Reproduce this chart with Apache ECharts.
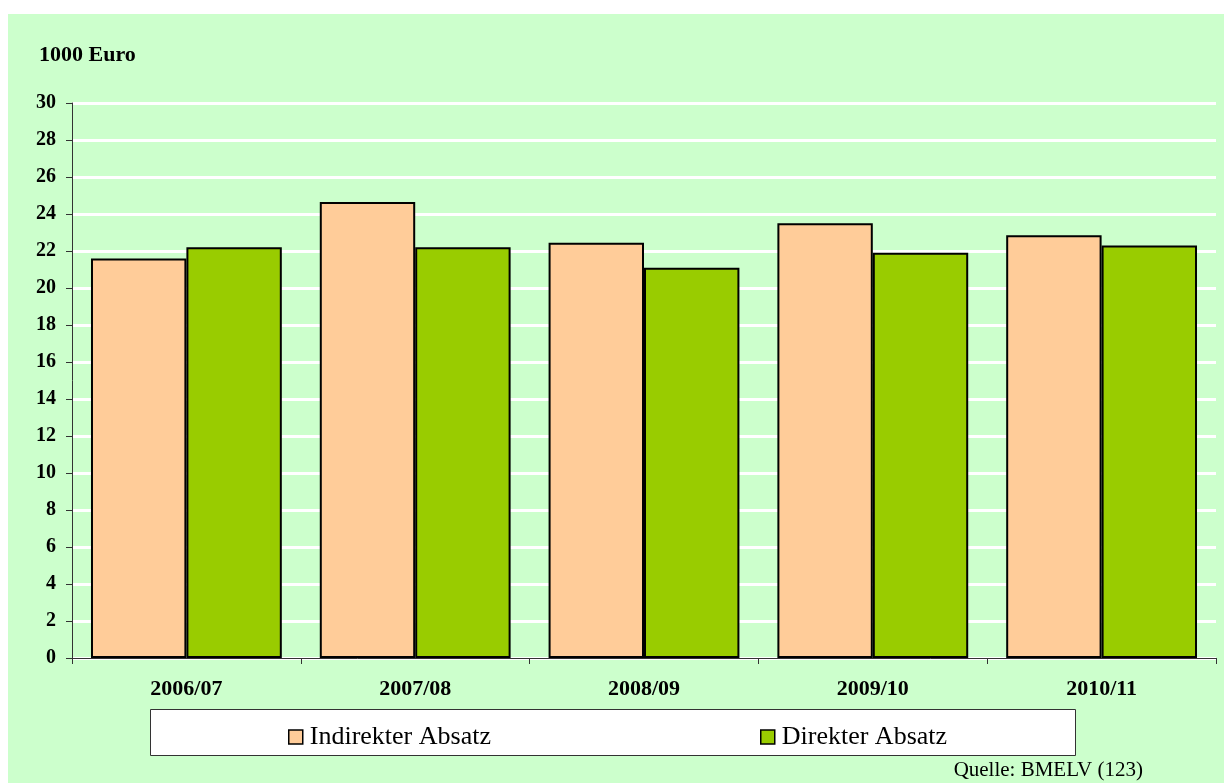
<!DOCTYPE html>
<html>
<head>
<meta charset="utf-8">
<script src="https://cdn.jsdelivr.net/npm/echarts@6/dist/echarts.min.js"></script>
<style>
html,body{margin:0;padding:0;background:#fff;}
#c{width:1224px;height:783px;}
</style>
</head>
<body>
<div id="c"></div>
<script>
const categories = ['2006/07', '2007/08', '2008/09', '2009/10', '2010/11'];
const indirekt = [21.6, 24.65, 22.45, 23.5, 22.85];
const direkt = [22.2, 22.2, 21.1, 21.9, 22.3];
const seriesNames = ['Indirekter Absatz', 'Direkter Absatz'];
const yTicks = {min: 0, max: 30, interval: 2};

const chart = echarts.init(document.getElementById('c'), null, {renderer: 'canvas'});
const serif = '"Liberation Serif", "Times New Roman", serif';
chart.setOption({
  backgroundColor: '#ffffff',
  animation: false,
  graphic: [
    {type: 'rect', z: -10, left: 8, top: 14, shape: {width: 1216, height: 769}, style: {fill: '#CCFFCC'}},
    {type: 'rect', z: 1, left: 150, top: 709, shape: {width: 925, height: 46}, style: {fill: '#ffffff', stroke: '#333', lineWidth: 1}},
    {type: 'text', left: 39, top: 44, style: {text: '1000 Euro', font: 'bold 22px ' + serif, fill: '#000'}},
    {type: 'text', right: 81, top: 760, style: {text: 'Quelle: BMELV (123)', font: '21px ' + serif, fill: '#000'}}
  ],
  grid: {left: 72, right: 8, top: 103, bottom: 125, containLabel: false},
  legend: [
    {data: [seriesNames[0]], left: 283, top: 719, icon: 'rect', itemWidth: 14, itemHeight: 14, itemGap: 0, z: 5,
     itemStyle: {borderWidth: 1.5, borderColor: '#000'},
     textStyle: {fontFamily: serif, fontSize: 26, color: '#000', padding: [0, 0, 0, 2]}},
    {data: [seriesNames[1]], left: 755, top: 719, icon: 'rect', itemWidth: 14, itemHeight: 14, itemGap: 0, z: 5,
     itemStyle: {borderWidth: 1.5, borderColor: '#000'},
     textStyle: {fontFamily: serif, fontSize: 26, color: '#000', padding: [0, 0, 0, 2]}}
  ],
  xAxis: {
    type: 'category', data: categories,
    axisLine: {lineStyle: {color: '#333', width: 1}},
    axisTick: {show: true, length: 6, lineStyle: {color: '#333'}},
    axisLabel: {fontFamily: serif, fontWeight: 'bold', fontSize: 22, color: '#000', margin: 20}
  },
  yAxis: {
    type: 'value', min: yTicks.min, max: yTicks.max, interval: yTicks.interval,
    axisLine: {show: true, lineStyle: {color: '#333', width: 1}},
    axisTick: {show: true, length: 6, lineStyle: {color: '#333'}},
    axisLabel: {fontFamily: serif, fontWeight: 'bold', fontSize: 20, color: '#000', margin: 16},
    splitLine: {show: true, lineStyle: {color: '#ffffff', width: 3}}
  },
  series: [
    {name: seriesNames[0], type: 'bar', data: indirekt, barGap: '0%', barCategoryGap: '16.6%',
     itemStyle: {color: '#FFCC99', borderColor: '#000', borderWidth: 2}},
    {name: seriesNames[1], type: 'bar', data: direkt, barGap: '0%', barCategoryGap: '16.6%',
     itemStyle: {color: '#99CC00', borderColor: '#000', borderWidth: 2}}
  ]
});
</script>
</body>
</html>
